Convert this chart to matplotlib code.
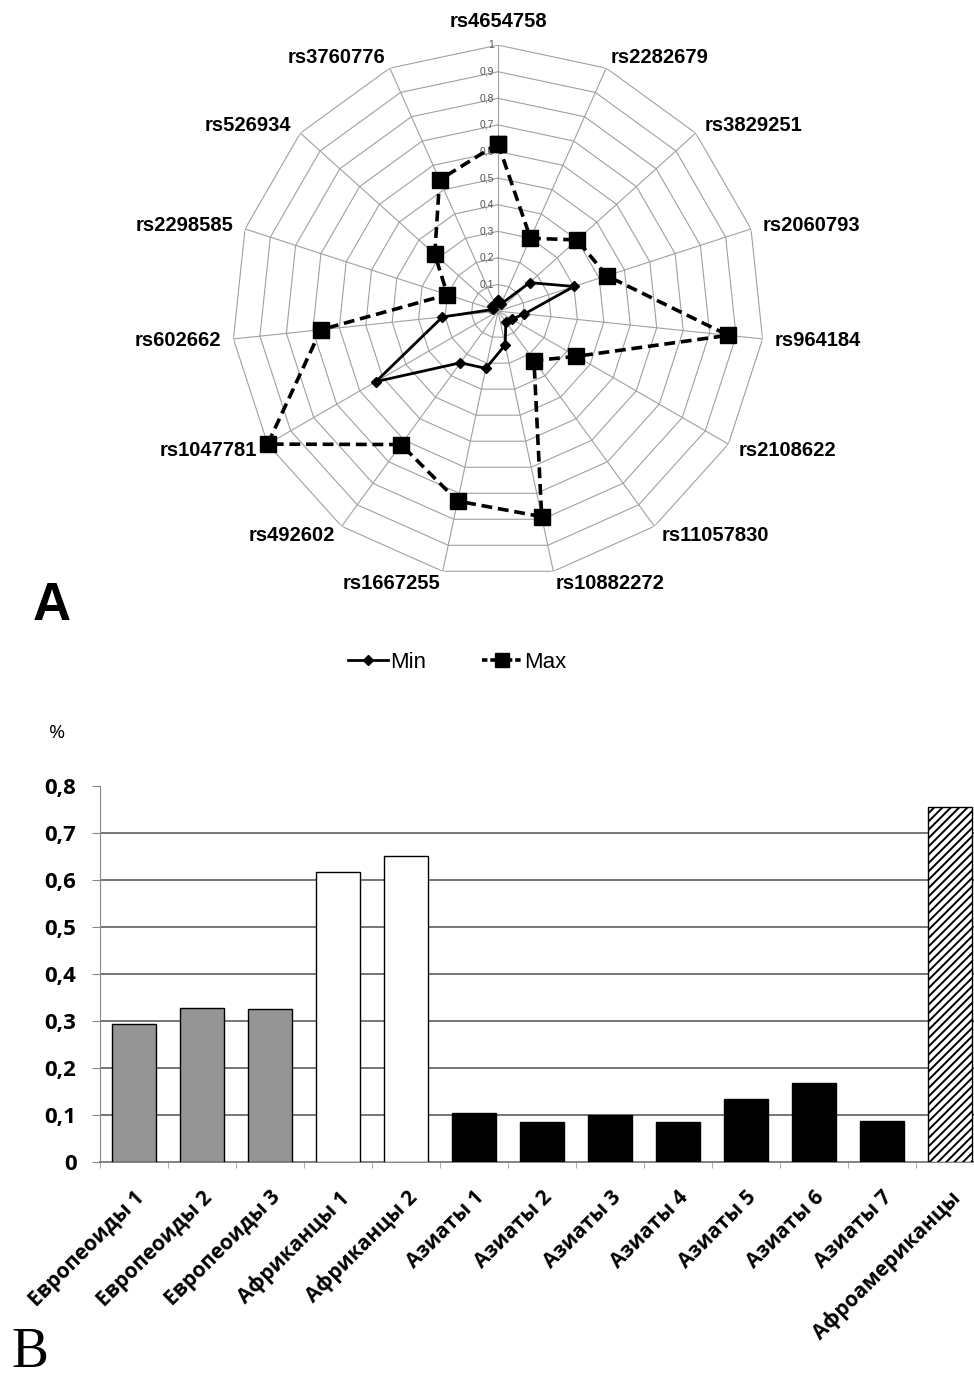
import numpy as np
import matplotlib
matplotlib.use("Agg")
import matplotlib.pyplot as plt
from matplotlib.lines import Line2D
from matplotlib.transforms import offset_copy

# radar data (panel A)
snps = ["rs4654758", "rs2282679", "rs3829251", "rs2060793", "rs964184",
        "rs2108622", "rs11057830", "rs10882272", "rs1667255", "rs492602",
        "rs1047781", "rs602662", "rs2298585", "rs526934", "rs3760776"]
min_vals = [0.04, 0.03, 0.16, 0.30, 0.10, 0.06, 0.05, 0.13, 0.22, 0.24,
            0.53, 0.21, 0.02, 0.03, 0.03]
max_vals = [0.63, 0.30, 0.40, 0.43, 0.87, 0.34, 0.23, 0.79, 0.73, 0.62,
            1.00, 0.67, 0.20, 0.32, 0.54]
radial_ticks = [0, 0.1, 0.2, 0.3, 0.4, 0.5, 0.6, 0.7, 0.8, 0.9, 1]

# bar data (panel B)
groups = ["Европеоиды 1", "Европеоиды 2", "Европеоиды 3", "Африканцы 1",
          "Африканцы 2", "Азиаты 1", "Азиаты 2", "Азиаты 3", "Азиаты 4",
          "Азиаты 5", "Азиаты 6", "Азиаты 7", "Афроамериканцы"]
freq = [0.294, 0.327, 0.326, 0.617, 0.652, 0.105, 0.086, 0.100, 0.086,
        0.133, 0.169, 0.087, 0.756]
kinds = ["eur"] * 3 + ["afr"] * 2 + ["asia"] * 7 + ["afam"]

narrow = ["Liberation Sans Narrow", "Liberation Sans", "DejaVu Sans"]
plt.rcParams["hatch.linewidth"] = 1.4

fig = plt.figure(figsize=(9.74, 13.8), dpi=100)

# ---------------- radar ----------------
ax = fig.add_axes([0.2382, 0.5818, 0.5462, 0.3855], projection="polar")
ax.set_theta_zero_location("N")
ax.set_theta_direction(-1)
ax.set_ylim(0, 1)
ax.grid(False)
ax.set_xticks([])
ax.set_yticks([])
ax.spines["polar"].set_visible(False)
ax.patch.set_visible(False)

theta = np.linspace(0, 2 * np.pi, len(snps), endpoint=False)
closed = np.append(theta, theta[0])
for lv in radial_ticks[1:]:
    ax.plot(closed, [lv] * len(closed), color="#a0a0a0", lw=0.8, zorder=1)
for th in theta:
    ax.plot([th, th], [0, 1], color="#a0a0a0", lw=0.8, zorder=1)

lab_tr = offset_copy(ax.transData, fig=fig, x=-3, y=0, units="points")
for lv in radial_ticks:
    ax.text(0, lv, str(lv).replace(".", ","), transform=lab_tr, ha="right",
            va="center", fontsize=7.5, color="#555555", family=narrow)

for th, name in zip(theta, snps):
    deg = np.degrees(th)
    if deg < 1:
        ha = "center"
        r = 1.09
    elif deg < 180:
        ha = "left"
        r = 1.045
    else:
        ha = "right"
        r = 1.045
    ax.text(th, r, name, ha=ha, va="center", fontsize=14.5, fontweight="bold",
            family=narrow)

ax.plot(closed, min_vals + min_vals[:1], color="black", lw=2.0, marker="D",
        markersize=5, zorder=3, clip_on=False)
ax.plot(closed, max_vals + max_vals[:1], color="black", lw=2.6,
        linestyle=(0, (3, 1.6)), marker="s", markersize=11, zorder=4,
        clip_on=False)

handles = [Line2D([], [], color="black", lw=2.0, marker="D", markersize=5),
           Line2D([], [], color="black", lw=2.6, linestyle=(0, (1.5, 0.8)),
                  marker="s", markersize=10)]
fig.legend(handles, ["Min", "Max"], loc="center",
           bbox_to_anchor=(457 / 974, 1 - 662 / 1380), ncol=2, frameon=False,
           prop={"family": narrow, "size": 16}, handlelength=1.8,
           handletextpad=0.1, columnspacing=2.5)

fig.text(52 / 974, 1 - 606 / 1380, "A", fontsize=38, fontweight="heavy",
         family=["Liberation Sans", "DejaVu Sans"], ha="center", va="center")

# ---------------- bars ----------------
bx = fig.add_axes([100 / 974, 1 - 1162 / 1380, 884 / 974, 376 / 1380])
x = np.arange(len(groups))
style = {"eur": dict(color="#959595", edgecolor="black", hatch=None),
         "afr": dict(color="white", edgecolor="black", hatch=None),
         "asia": dict(color="black", edgecolor="black", hatch=None),
         "afam": dict(color="white", edgecolor="black", hatch="////")}
for xi, v, k in zip(x, freq, kinds):
    bx.bar(xi, v, width=0.65, linewidth=1.0, zorder=3, **style[k])

bx.set_xlim(-0.5, len(groups) - 0.5)
bx.set_ylim(0, 0.8)
bx.set_yticks(np.arange(0, 0.81, 0.1))
bx.set_yticklabels(["0", "0,1", "0,2", "0,3", "0,4", "0,5", "0,6", "0,7", "0,8"],
                   fontsize=16, fontweight="bold", family=["Open Sans", "DejaVu Sans"])
for yv in np.arange(0.1, 0.75, 0.1):
    bx.axhline(yv, color="#6a6a6a", lw=1.3, zorder=1)
for s in ["top", "right"]:
    bx.spines[s].set_visible(False)
bx.spines["left"].set_color("#888888")
bx.spines["bottom"].set_color("#777777")
bx.spines["bottom"].set_linewidth(1.3)
bx.tick_params(axis="y", length=6, color="#888888", pad=11)
bx.set_xticks(x)
bx.set_xticks(np.arange(-0.5, len(groups), 1), minor=True)
bx.tick_params(axis="x", which="major", length=0, pad=18)
bx.tick_params(axis="x", which="minor", length=4, color="#999999")
bx.set_xticklabels(groups, rotation=45, ha="right", va="top",
                   rotation_mode="anchor", fontsize=15, fontweight="bold",
                   family=["Open Sans", "DejaVu Sans"])

fig.text(57 / 974, 1 - 733 / 1380, "%", fontsize=14, ha="center", va="center",
         family=["Open Sans", "DejaVu Sans"])
fig.text(30 / 974, 1 - 1379 / 1380, "B", fontsize=40, ha="center",
         va="bottom", family=["Liberation Serif", "DejaVu Serif"])

fig.savefig("out.png", dpi=100)
